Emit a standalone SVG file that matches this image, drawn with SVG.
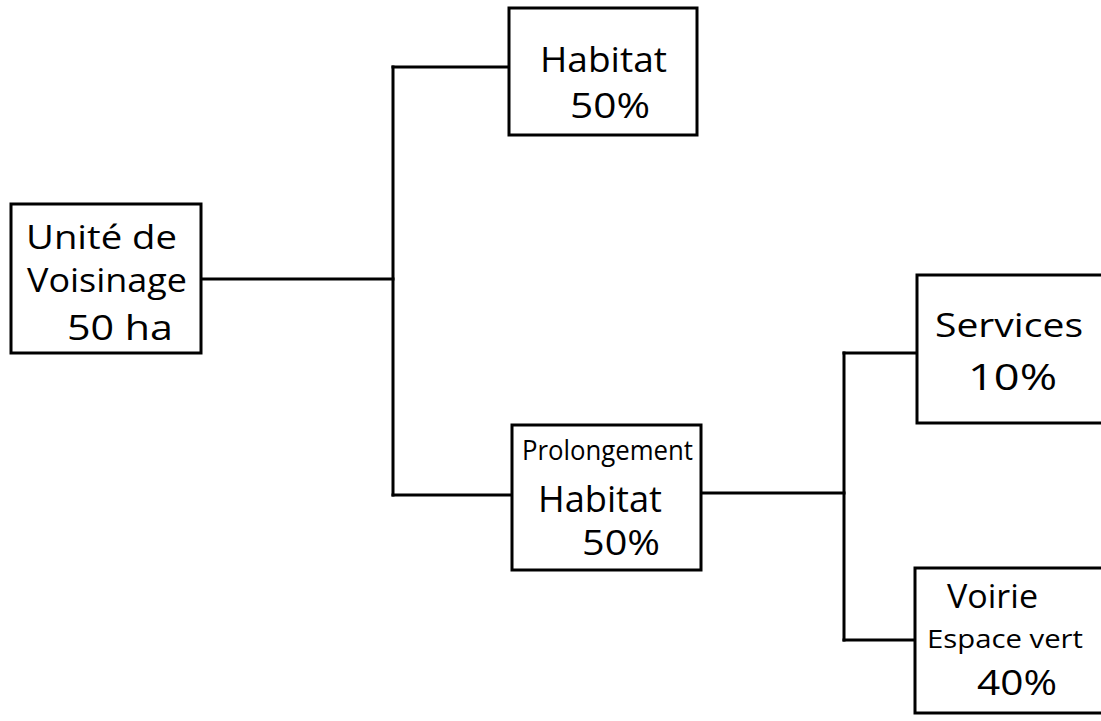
<svg xmlns="http://www.w3.org/2000/svg" width="1101" height="721" viewBox="0 0 1101 721">
<style>
.box{fill:#fff;stroke:#000;stroke-width:3}
.ln{fill:none;stroke:#000;stroke-width:3;stroke-linecap:square}
text{font-family:"Open Sans","DejaVu Sans",sans-serif;fill:#000}
</style>
<rect width="1101" height="721" fill="#fff"/>
<g id="connectors">
<path class="ln" d="M201,279 H393"/>
<path class="ln" d="M393,67 V495"/>
<path class="ln" d="M393,67 H509"/>
<path class="ln" d="M393,495 H512"/>
<path class="ln" d="M701,493 H844"/>
<path class="ln" d="M844,353 V640"/>
<path class="ln" d="M844,353 H917"/>
<path class="ln" d="M844,640 H915"/>
</g>
<g id="unite">
<rect class="box" x="11" y="204" width="190" height="149"/>
<text x="26" y="249" font-size="32" textLength="151" lengthAdjust="spacingAndGlyphs">Unité de</text>
<text x="27" y="292" font-size="32" textLength="160" lengthAdjust="spacingAndGlyphs">Voisinage</text>
<text x="67" y="340" font-size="34" textLength="106" lengthAdjust="spacingAndGlyphs">50 ha</text>
</g>
<g id="habitat">
<rect class="box" x="509" y="8" width="188" height="127"/>
<text x="540" y="72" font-size="34" textLength="127" lengthAdjust="spacingAndGlyphs">Habitat</text>
<text x="570" y="118" font-size="34" textLength="80" lengthAdjust="spacingAndGlyphs">50%</text>
</g>
<g id="prolongement">
<rect class="box" x="512" y="425" width="189" height="145"/>
<text x="522" y="460" font-size="28" textLength="171" lengthAdjust="spacingAndGlyphs">Prolongement</text>
<text x="538" y="512" font-size="36" textLength="124" lengthAdjust="spacingAndGlyphs">Habitat</text>
<text x="582" y="555" font-size="34" textLength="78" lengthAdjust="spacingAndGlyphs">50%</text>
</g>
<g id="services">
<rect class="box" x="917" y="275" width="200" height="148"/>
<text x="935" y="337" font-size="32" textLength="148" lengthAdjust="spacingAndGlyphs">Services</text>
<text x="968" y="390" font-size="36" textLength="89" lengthAdjust="spacingAndGlyphs">10%</text>
</g>
<g id="voirie">
<rect class="box" x="915" y="568" width="200" height="145"/>
<text x="947" y="608" font-size="32" textLength="91" lengthAdjust="spacingAndGlyphs">Voirie</text>
<text x="927" y="648" font-size="26" textLength="156" lengthAdjust="spacingAndGlyphs">Espace vert</text>
<text x="977" y="695" font-size="35" textLength="80" lengthAdjust="spacingAndGlyphs">40%</text>
</g>
</svg>
